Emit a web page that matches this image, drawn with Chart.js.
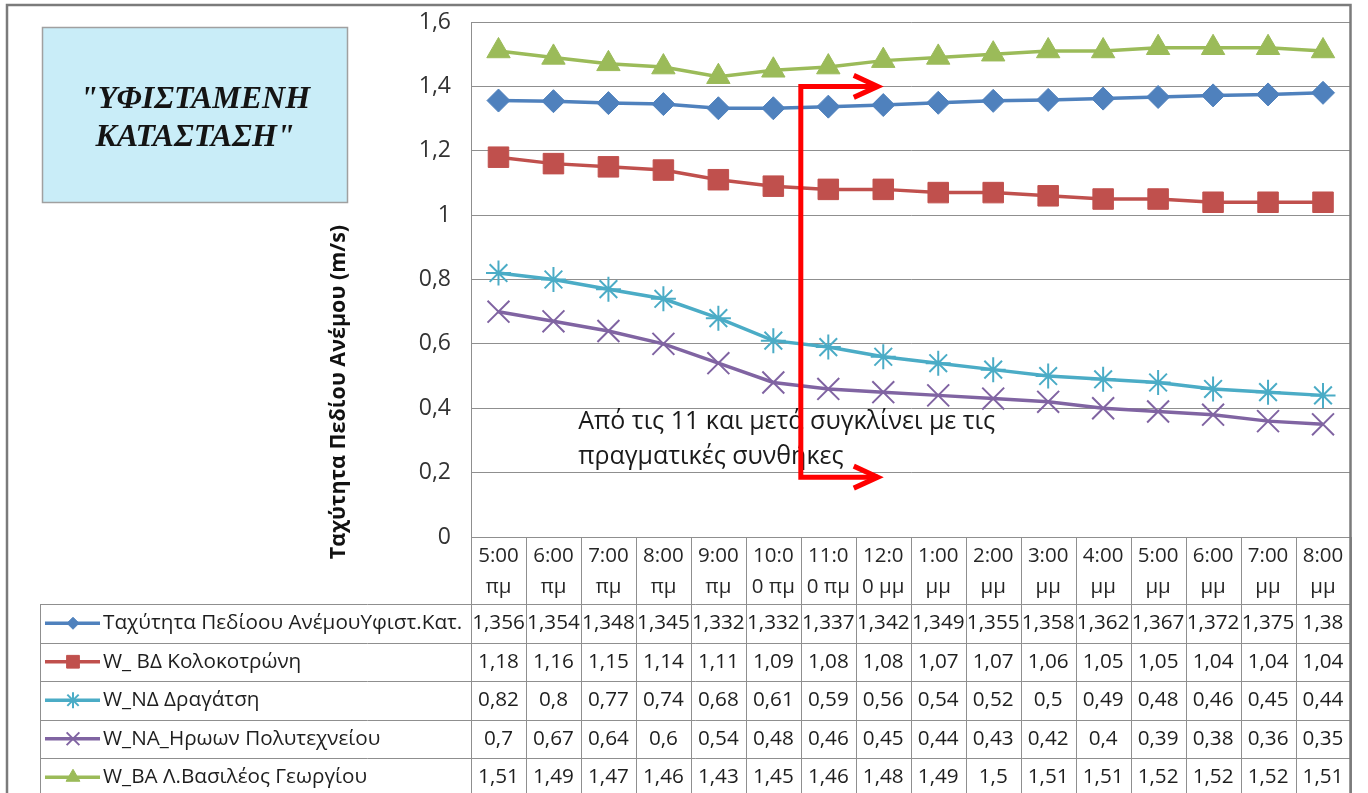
<!DOCTYPE html>
<html>
<head>
<meta charset="utf-8">
<script src="https://cdn.jsdelivr.net/npm/chart.js@4.4.1/dist/chart.umd.min.js"></script>
<style>
  html, body { margin: 0; padding: 0; background: #fff; }
  canvas { display: block; }
</style>
</head>
<body>
<canvas id="c" width="1368" height="793"></canvas>
<script>
// Hourly categories (two-line labels as printed in the header row)
const hours = [
  ["5:00", "πμ"], ["6:00", "πμ"], ["7:00", "πμ"], ["8:00", "πμ"], ["9:00", "πμ"],
  ["10:0", "0 πμ"], ["11:0", "0 πμ"], ["12:0", "0 μμ"],
  ["1:00", "μμ"], ["2:00", "μμ"], ["3:00", "μμ"], ["4:00", "μμ"],
  ["5:00", "μμ"], ["6:00", "μμ"], ["7:00", "μμ"], ["8:00", "μμ"]
];

// Wind field speed (m/s) per series
const speedExisting = [1.356, 1.354, 1.348, 1.345, 1.332, 1.332, 1.337, 1.342, 1.349, 1.355, 1.358, 1.362, 1.367, 1.372, 1.375, 1.38];
const kolokotroni   = [1.18, 1.16, 1.15, 1.14, 1.11, 1.09, 1.08, 1.08, 1.07, 1.07, 1.06, 1.05, 1.05, 1.04, 1.04, 1.04];
const dragatsi      = [0.82, 0.8, 0.77, 0.74, 0.68, 0.61, 0.59, 0.56, 0.54, 0.52, 0.5, 0.49, 0.48, 0.46, 0.45, 0.44];
const polytechneiou = [0.7, 0.67, 0.64, 0.6, 0.54, 0.48, 0.46, 0.45, 0.44, 0.43, 0.42, 0.4, 0.39, 0.38, 0.36, 0.35];
const vasileos      = [1.51, 1.49, 1.47, 1.46, 1.43, 1.45, 1.46, 1.48, 1.49, 1.5, 1.51, 1.51, 1.52, 1.52, 1.52, 1.51];

const seriesNames = [
  "Ταχύτητα Πεδίοου ΑνέμουΥφιστ.Κατ.",
  "W_ ΒΔ Κολοκοτρώνη",
  "W_ΝΔ Δραγάτση",
  "W_ΝΑ_Ηρωων Πολυτεχνείου",
  "W_ΒΑ Λ.Βασιλέος Γεωργίου"
];

// Y axis range and tick step
const yMin = 0, yMax = 1.6, yStep = 0.2;

const FONT = '"Open Sans", "Noto Sans", sans-serif';
const fmt = v => String(Math.round(v * 1000) / 1000).replace('.', ',');

const styles = [
  { color: '#4F81BD', pointStyle: 'rectRot',  radius: 11.5, bw: 1, legendR: 6 },
  { color: '#C0504D', pointStyle: 'rect',     radius: 14.5, bw: 1, legendR: 9 },
  { color: '#4BACC6', pointStyle: 'star',     radius: 12.5, bw: 2, legendR: 8 },
  { color: '#8064A2', pointStyle: 'crossRot', radius: 15.5, bw: 2, legendR: 9 },
  { color: '#9BBB59', pointStyle: 'triangle', radius: 13.5, bw: 1, legendR: 8 }
];
const seriesData = [speedExisting, kolokotroni, dragatsi, polytechneiou, vasileos];

const datasets = seriesData.map((d, i) => ({
  label: seriesNames[i],
  data: d,
  borderColor: styles[i].color,
  backgroundColor: styles[i].color,
  borderWidth: 3.5,
  tension: 0,
  pointStyle: styles[i].pointStyle,
  pointRadius: styles[i].radius,
  pointHoverRadius: styles[i].radius,
  pointBorderWidth: styles[i].bw,
  pointBackgroundColor: styles[i].color,
  pointBorderColor: styles[i].color
}));

// Title box, axis title, note with red arrows, data table and outer frame
const decor = {
  id: 'decor',
  beforeDraw(chart) {
    const ctx = chart.ctx;
    ctx.save();
    ctx.fillStyle = '#ffffff';
    ctx.fillRect(0, 0, chart.width, chart.height);

    // Title text box
    ctx.fillStyle = '#c9edf8';
    ctx.fillRect(42, 27, 306, 176);
    ctx.strokeStyle = '#a0a0a0';
    ctx.lineWidth = 1.5;
    ctx.strokeRect(42.5, 27.5, 305, 175);
    ctx.fillStyle = '#141414';
    ctx.font = 'italic bold 32px "Liberation Serif", serif';
    ctx.textAlign = 'center';
    ctx.textBaseline = 'alphabetic';
    ctx.fillText('"ΥΦΙΣΤΑΜΕΝΗ', 195, 108);
    ctx.fillText('ΚΑΤΑΣΤΑΣΗ"', 195, 146);

    // Y axis title
    ctx.translate(339, 392);
    ctx.rotate(-Math.PI / 2);
    ctx.font = 'bold 21.5px ' + FONT;
    ctx.textBaseline = 'middle';
    ctx.fillStyle = '#111';
    ctx.fillText('Ταχύτητα Πεδίου Ανέμου (m/s)', 0, 0);
    ctx.restore();
  },
  afterDatasetsDraw(chart) {
    const ctx = chart.ctx;
    const xs = chart.scales.x, ys = chart.scales.y;
    ctx.save();
    // Note text
    ctx.fillStyle = '#1a1a1a';
    ctx.font = '25px ' + FONT;
    ctx.textAlign = 'left';
    ctx.textBaseline = 'alphabetic';
    const tx = xs.getPixelForValue(1.45);
    ctx.fillText('Από τις 11 και μετά συγκλίνει με τις', tx, ys.getPixelForValue(0.335));
    ctx.fillText('πραγματικές συνθήκες', tx, ys.getPixelForValue(0.228));

    // Red bracket arrow from 11:00 onward
    const ax = xs.getPixelForValue(5.5);
    const tipX = xs.getPixelForValue(6.9);
    const yTop = ys.getPixelForValue(1.4);
    const yBot = ys.getPixelForValue(0.186);
    ctx.strokeStyle = '#ff0000';
    ctx.lineWidth = 5;
    ctx.lineJoin = 'miter';
    ctx.lineCap = 'butt';
    ctx.beginPath();
    ctx.moveTo(tipX, yTop);
    ctx.lineTo(ax, yTop);
    ctx.lineTo(ax, yBot);
    ctx.lineTo(tipX, yBot);
    ctx.stroke();
    [yTop, yBot].forEach(y => {
      ctx.beginPath();
      ctx.moveTo(tipX - 24, y - 11);
      ctx.lineTo(tipX, y);
      ctx.lineTo(tipX - 24, y + 11);
      ctx.stroke();
    });
    ctx.restore();
  },
  afterDraw(chart) {
    const ctx = chart.ctx;
    const xs = chart.scales.x;
    const area = chart.chartArea;
    const n = hours.length;
    const colW = (area.right - area.left) / n;
    const headTop = area.bottom;
    const headBot = xs.bottom;
    const rowH = 38.5;
    const legendLeft = 40;
    const H = chart.height;
    ctx.save();
    ctx.strokeStyle = '#8f8f8f';
    ctx.lineWidth = 1;
    const line = (x1, y1, x2, y2) => { ctx.beginPath(); ctx.moveTo(x1, y1); ctx.lineTo(x2, y2); ctx.stroke(); };

    for (let i = 0; i <= n; i++) {
      const x = Math.round(area.left + i * colW) + 0.5;
      line(x, headTop, x, H);
    }
    for (let r = 0; r <= seriesData.length; r++) {
      const y = Math.round(headBot + r * rowH) + 0.5;
      line(legendLeft, y, area.right, y);
    }
    line(legendLeft + 0.5, headBot, legendLeft + 0.5, H);

    // Rows: legend key, series name, values
    seriesData.forEach((d, r) => {
      const cy = headBot + r * rowH + rowH / 2;
      const st = styles[r];
      ctx.strokeStyle = st.color;
      ctx.fillStyle = st.color;
      ctx.lineWidth = 3.5;
      line(45, cy, 100, cy);
      ctx.lineWidth = st.bw;
      Chart.helpers.drawPoint(ctx, { pointStyle: st.pointStyle, radius: st.legendR, borderWidth: st.bw, rotation: 0 }, 73, cy);

      ctx.fillStyle = '#1e1e1e';
      ctx.font = '20.7px ' + FONT;
      ctx.textAlign = 'left';
      ctx.textBaseline = 'middle';
      ctx.fillText(seriesNames[r], 103, cy);

      ctx.textAlign = 'center';
      d.forEach((v, i) => {
        ctx.fillText(fmt(v), xs.getPixelForValue(i), cy);
      });
    });

    // Outer frame
    ctx.strokeStyle = '#7b7b7b';
    ctx.lineWidth = 2.5;
    ctx.beginPath();
    ctx.moveTo(7, H + 5);
    ctx.lineTo(7, 5);
    ctx.lineTo(area.right, 5);
    ctx.lineTo(area.right, H + 5);
    ctx.stroke();
    ctx.restore();
  }
};

new Chart(document.getElementById('c'), {
  type: 'line',
  data: { labels: hours, datasets },
  plugins: [decor],
  options: {
    responsive: false,
    animation: false,
    events: [],
    layout: { padding: { left: 0, right: 11, top: 22, bottom: 189 } },
    plugins: {
      legend: { display: false },
      tooltip: { enabled: false },
      title: { display: false }
    },
    scales: {
      x: {
        type: 'category',
        offset: true,
        grid: { display: false, drawTicks: false },
        border: { display: true, color: '#8f8f8f', width: 1 },
        ticks: {
          autoSkip: false,
          maxRotation: 0,
          minRotation: 0,
          padding: 4,
          color: '#262626',
          font: { family: FONT, size: 20.5, lineHeight: 1.5 }
        },
        afterFit(scale) { scale.height = 67; }
      },
      y: {
        min: yMin,
        max: yMax,
        grid: { color: '#8f8f8f', lineWidth: 1, drawTicks: true, tickLength: 20, tickColor: 'rgba(0,0,0,0)' },
        border: { display: true, color: '#8f8f8f', width: 1 },
        ticks: {
          stepSize: yStep,
          padding: 0,
          color: '#333333',
          font: { family: FONT, size: 23 },
          callback: v => fmt(v)
        },
        afterFit(scale) { scale.width = 471; }
      }
    }
  }
});
</script>
</body>
</html>
